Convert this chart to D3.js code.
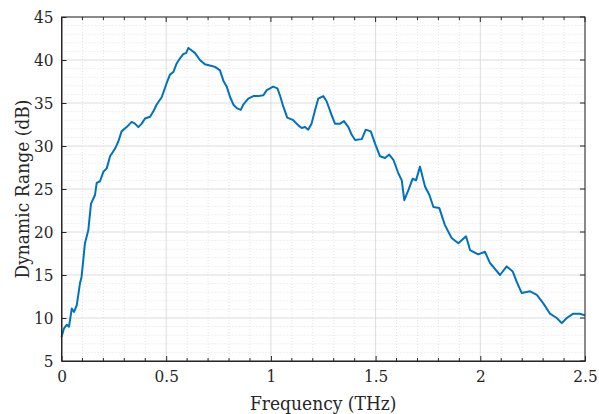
<!DOCTYPE html>
<html>
<head>
<meta charset="utf-8">
<script src="https://cdn.jsdelivr.net/npm/d3@7"></script>
<style>
  body { margin: 0; background: #fff; }
  svg { display: block; }
</style>
</head>
<body>
<div id="chart"></div>
<script>
const width = 599;
const height = 414;
const serif = "'DejaVu Serif Condensed', 'DejaVu Serif', serif";

// Frequency (THz) and dynamic range (dB)
const freq = [0, 0.012, 0.025, 0.036, 0.049, 0.06, 0.073, 0.088, 0.096, 0.112, 0.128, 0.141, 0.16, 0.168, 0.184,
  0.2, 0.216, 0.232, 0.256, 0.271, 0.287, 0.311, 0.335, 0.351, 0.367, 0.383, 0.399, 0.423, 0.438, 0.454,
  0.479, 0.502, 0.518, 0.534, 0.55, 0.566, 0.582, 0.595, 0.606, 0.622, 0.638, 0.661, 0.685, 0.717, 0.733,
  0.757, 0.773, 0.789, 0.805, 0.821, 0.837, 0.856, 0.868, 0.892, 0.916, 0.94, 0.964, 0.98, 0.996, 1.011,
  1.031, 1.043, 1.059, 1.078, 1.107, 1.131, 1.147, 1.163, 1.178, 1.194, 1.211, 1.226, 1.25, 1.266, 1.29,
  1.306, 1.33, 1.349, 1.37, 1.386, 1.402, 1.434, 1.453, 1.477, 1.497, 1.521, 1.545, 1.565, 1.585, 1.609,
  1.625, 1.637, 1.657, 1.677, 1.693, 1.712, 1.736, 1.757, 1.776, 1.804, 1.831, 1.863, 1.895, 1.932, 1.951,
  1.99, 2.022, 2.046, 2.094, 2.126, 2.155, 2.174, 2.198, 2.238, 2.27, 2.301, 2.333, 2.365, 2.389, 2.413,
  2.444, 2.476, 2.5];
const range = [7.8, 8.8, 9.2, 9.0, 11.1, 10.7, 11.5, 14.0, 14.8, 18.7, 20.2, 23.3, 24.3, 25.7, 25.9,
  27.0, 27.4, 28.8, 29.7, 30.5, 31.7, 32.2, 32.8, 32.6, 32.2, 32.6, 33.2, 33.4, 34.0, 34.8,
  35.7, 37.3, 38.3, 38.6, 39.6, 40.2, 40.7, 40.8, 41.4, 41.1, 40.8, 40.0, 39.5, 39.3, 39.2,
  38.8, 37.6, 36.9, 35.7, 34.8, 34.4, 34.2, 34.8, 35.5, 35.8, 35.8, 35.9, 36.5, 36.7, 36.9,
  36.7, 35.9, 34.6, 33.3, 33.0, 32.4, 32.1, 32.2, 31.9, 32.6, 34.2, 35.5, 35.8, 35.2, 33.6,
  32.6, 32.6, 32.9, 32.2, 31.3, 30.7, 30.8, 31.9, 31.7, 30.3, 28.8, 28.6, 29.0, 28.4, 26.8,
  26.0, 23.7, 24.9, 26.2, 26.0, 27.6, 25.3, 24.3, 22.9, 22.8, 20.8, 19.3, 18.7, 19.5, 17.9,
  17.4, 17.7, 16.4, 15.0, 16.0, 15.4, 14.2, 12.9, 13.1, 12.7, 11.7, 10.5, 10.0, 9.4, 10.0,
  10.5, 10.5, 10.3];

const xTicks = [0, 0.5, 1, 1.5, 2, 2.5];
const yTicks = [5, 10, 15, 20, 25, 30, 35, 40, 45];

const margin = { top: 17, right: 14, bottom: 53, left: 61.5 };
const innerW = width - margin.left - margin.right;
const innerH = height - margin.top - margin.bottom;

const x = d3.scaleLinear().domain([0, 2.5]).range([0, innerW]);
const y = d3.scaleLinear().domain([5, 45]).range([innerH, 0]);

const svg = d3.select("#chart").append("svg")
    .attr("width", width)
    .attr("height", height);

const g = svg.append("g").attr("transform", `translate(${margin.left},${margin.top})`);

// minor grid
const xMinor = d3.range(0, 2.5001, 0.1).filter(v => Math.abs(v * 2 - Math.round(v * 2)) > 1e-6);
const yMinor = d3.range(5, 45.001, 1).filter(v => v % 5 !== 0);

g.append("g").selectAll("line")
    .data(xMinor)
    .join("line")
    .attr("x1", d => x(d)).attr("x2", d => x(d))
    .attr("y1", 0).attr("y2", innerH)
    .attr("stroke", "#e3e3e3").attr("stroke-dasharray", "1,2");

g.append("g").selectAll("line")
    .data(yMinor)
    .join("line")
    .attr("x1", 0).attr("x2", innerW)
    .attr("y1", d => y(d)).attr("y2", d => y(d))
    .attr("stroke", "#e3e3e3").attr("stroke-dasharray", "1,2");

// major grid
g.append("g").selectAll("line")
    .data(xTicks)
    .join("line")
    .attr("x1", d => x(d)).attr("x2", d => x(d))
    .attr("y1", 0).attr("y2", innerH)
    .attr("stroke", "#dcdcdc");

g.append("g").selectAll("line")
    .data(yTicks)
    .join("line")
    .attr("x1", 0).attr("x2", innerW)
    .attr("y1", d => y(d)).attr("y2", d => y(d))
    .attr("stroke", "#dcdcdc");

// data line
const line = d3.line()
    .x((d, i) => x(freq[i]))
    .y(d => y(d));

g.append("path")
    .datum(range)
    .attr("fill", "none")
    .attr("stroke", "#0072BD")
    .attr("stroke-width", 2)
    .attr("stroke-linejoin", "round")
    .attr("d", line);

// axes
const xAxis = g.append("g")
    .attr("transform", `translate(0,${innerH})`)
    .call(d3.axisBottom(x).tickValues(xTicks).tickFormat(d3.format("")).tickSizeInner(-5).tickSizeOuter(0).tickPadding(9));

const yAxis = g.append("g")
    .call(d3.axisLeft(y).tickValues(yTicks).tickSizeInner(-5).tickSizeOuter(0).tickPadding(8));

// minor ticks on x
g.append("g").selectAll("line")
    .data(xMinor)
    .join("line")
    .attr("x1", d => x(d)).attr("x2", d => x(d))
    .attr("y1", innerH).attr("y2", innerH - 3)
    .attr("stroke", "#262626");

g.append("g").selectAll("line")
    .data(xMinor.concat(xTicks))
    .join("line")
    .attr("x1", d => x(d)).attr("x2", d => x(d))
    .attr("y1", 0).attr("y2", d => xTicks.includes(d) ? 5 : 3)
    .attr("stroke", "#262626");

g.append("g").selectAll("line")
    .data(yTicks)
    .join("line")
    .attr("x1", innerW).attr("x2", innerW - 5)
    .attr("y1", d => y(d)).attr("y2", d => y(d))
    .attr("stroke", "#262626");

[xAxis, yAxis].forEach(a => {
  a.attr("font-family", null);
  a.select(".domain").attr("stroke", "#262626");
  a.selectAll(".tick line").attr("stroke", "#262626");
  a.selectAll(".tick text")
    .style("font-family", serif)
    .style("font-size", "17px")
    .attr("fill", "#262626");
});

// box
g.append("rect")
    .attr("width", innerW).attr("height", innerH)
    .attr("fill", "none").attr("stroke", "#262626");

svg.append("text")
    .attr("x", margin.left + innerW / 2)
    .attr("y", 410)
    .attr("text-anchor", "middle")
    .style("font-family", serif)
    .style("font-size", "19px")
    .attr("fill", "#262626")
    .text("Frequency (THz)");

svg.append("text")
    .attr("transform", `translate(29,${margin.top + innerH / 2}) rotate(-90)`)
    .attr("text-anchor", "middle")
    .style("font-family", serif)
    .style("font-size", "19px")
    .attr("fill", "#262626")
    .text("Dynamic Range (dB)");
</script>
</body>
</html>
